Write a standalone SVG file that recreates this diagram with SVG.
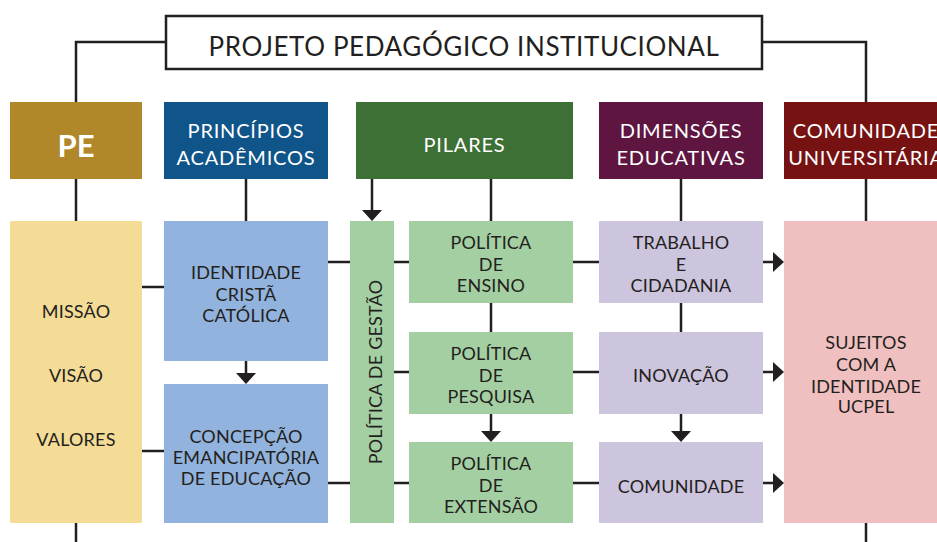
<svg xmlns="http://www.w3.org/2000/svg" width="937" height="542" viewBox="0 0 937 542">
<style>
text{font-family:"Lato","Noto Sans","Liberation Sans",sans-serif;text-anchor:middle}
.h{fill:#ffffff;font-size:20px;letter-spacing:0.8px}
.pe{fill:#ffffff;font-size:31px;font-weight:bold}
.b{fill:#231f20;font-size:18px;letter-spacing:0.2px}
.t{fill:#231f20;font-size:26px;letter-spacing:0.6px}
.ln{stroke:#231f20;stroke-width:2.5;fill:none}
.ah{fill:#231f20}
</style>
<defs>
<polygon id="ad" points="-10,-11 10,-11 0,0"/>
<polygon id="ar" points="-11,-10 0,0 -11,10"/>
</defs>
<rect width="937" height="542" fill="#ffffff"/>
<g id="connectors">
<path class="ln" d="M165,42H76V102M762,42H866V102"/>
<path class="ln" d="M76,179V221M76,523V542M866,179V221M866,523V542"/>
<path class="ln" d="M246,179V221M372,179V212M491,179V221M681,179V221"/>
<path class="ln" d="M246,361V374M491,303V332M491,414V432M681,303V332M681,414V432"/>
<path class="ln" d="M142,287H164M142,451H164M328,262H409M328,483H409M394,372H409M573,262H599M573,372H599M573,483H599M763,262H774M763,372H774M763,483H774"/>
<use href="#ad" class="ah" x="372" y="221"/>
<use href="#ad" class="ah" x="246" y="384"/>
<use href="#ad" class="ah" x="491" y="442"/>
<use href="#ad" class="ah" x="681" y="442"/>
<use href="#ar" class="ah" x="784" y="262"/>
<use href="#ar" class="ah" x="784" y="372"/>
<use href="#ar" class="ah" x="784" y="483"/>
</g>
<g id="title">
<rect x="166" y="16" width="596" height="53" fill="#ffffff" stroke="#231f20" stroke-width="2.5"/>
<text class="t" x="464" y="56">PROJETO PEDAGÓGICO INSTITUCIONAL</text>
</g>
<g id="pe">
<rect x="10" y="102" width="132" height="77" fill="#b0882a"/>
<text class="pe" x="76" y="157">PE</text>
</g>
<g id="principios">
<rect x="164" y="102" width="164" height="77" fill="#10558a"/>
<text class="h" x="246" y="138">PRINCÍPIOS</text>
<text class="h" x="246" y="165">ACADÊMICOS</text>
</g>
<g id="pilares">
<rect x="356" y="102" width="217" height="77" fill="#3c7035"/>
<text class="h" x="464.5" y="152">PILARES</text>
</g>
<g id="dimensoes">
<rect x="599" y="102" width="164" height="77" fill="#5e1540"/>
<text class="h" x="681" y="138">DIMENSÕES</text>
<text class="h" x="681" y="165">EDUCATIVAS</text>
</g>
<g id="comunidade-universitaria">
<rect x="784" y="102" width="164" height="77" fill="#771212"/>
<text class="h" x="866" y="138">COMUNIDADE</text>
<text class="h" x="866" y="165">UNIVERSITÁRIA</text>
</g>
<g id="pe-valores">
<rect x="10" y="221" width="132" height="302" fill="#f4db96"/>
<text class="b" x="76" y="318">MISSÃO</text>
<text class="b" x="76" y="382">VISÃO</text>
<text class="b" x="76" y="446">VALORES</text>
</g>
<g id="identidade">
<rect x="164" y="221" width="164" height="140" fill="#92b3dd"/>
<text class="b" x="246" y="279">IDENTIDADE</text>
<text class="b" x="246" y="301">CRISTÃ</text>
<text class="b" x="246" y="322">CATÓLICA</text>
</g>
<g id="concepcao">
<rect x="164" y="384" width="164" height="139" fill="#92b3dd"/>
<text class="b" x="246" y="443">CONCEPÇÃO</text>
<text class="b" x="246" y="464">EMANCIPATÓRIA</text>
<text class="b" x="246" y="485">DE EDUCAÇÃO</text>
</g>
<g id="gestao">
<rect x="350" y="221" width="44" height="302" fill="#a4cfa3"/>
<text class="b" transform="translate(382,372) rotate(-90)">POLÍTICA DE GESTÃO</text>
</g>
<g id="ensino">
<rect x="409" y="221" width="164" height="82" fill="#a4cfa3"/>
<text class="b" x="491" y="249">POLÍTICA</text>
<text class="b" x="491" y="271">DE</text>
<text class="b" x="491" y="292">ENSINO</text>
</g>
<g id="pesquisa">
<rect x="409" y="332" width="164" height="82" fill="#a4cfa3"/>
<text class="b" x="491" y="360">POLÍTICA</text>
<text class="b" x="491" y="382">DE</text>
<text class="b" x="491" y="403">PESQUISA</text>
</g>
<g id="extensao">
<rect x="409" y="442" width="164" height="81" fill="#a4cfa3"/>
<text class="b" x="491" y="470">POLÍTICA</text>
<text class="b" x="491" y="492">DE</text>
<text class="b" x="491" y="513">EXTENSÃO</text>
</g>
<g id="trabalho">
<rect x="599" y="221" width="164" height="82" fill="#cdc4dd"/>
<text class="b" x="681" y="249">TRABALHO</text>
<text class="b" x="681" y="271">E</text>
<text class="b" x="681" y="292">CIDADANIA</text>
</g>
<g id="inovacao">
<rect x="599" y="332" width="164" height="82" fill="#cdc4dd"/>
<text class="b" x="681" y="382">INOVAÇÃO</text>
</g>
<g id="comunidade">
<rect x="599" y="442" width="164" height="81" fill="#cdc4dd"/>
<text class="b" x="681" y="493">COMUNIDADE</text>
</g>
<g id="sujeitos">
<rect x="784" y="221" width="164" height="302" fill="#f0bfbf"/>
<text class="b" x="866" y="349">SUJEITOS</text>
<text class="b" x="866" y="371">COM A</text>
<text class="b" x="866" y="393">IDENTIDADE</text>
<text class="b" x="866" y="413">UCPEL</text>
</g>
</svg>
